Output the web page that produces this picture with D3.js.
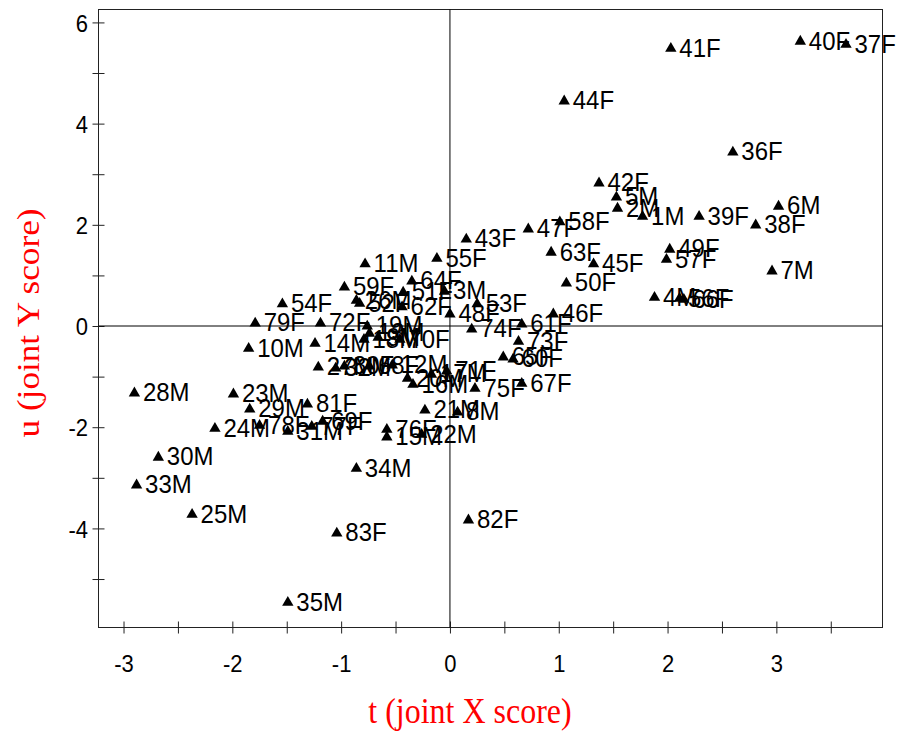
<!DOCTYPE html>
<html>
<head>
<meta charset="utf-8">
<script src="https://cdn.jsdelivr.net/npm/d3@7"></script>
<style>
  body { margin: 0; background: #fff; }
  text { font-family: "Liberation Sans", Arial, sans-serif; }
</style>
</head>
<body>
<script>
// sample ids (1-35 male, 36-83 female)
var labels = ["1M","2M","3M","4M","5M","6M","7M","8M","9M","10M",
  "11M","12M","13M","14M","15M","16M","17M","18M","19M","20M",
  "21M","22M","23M","24M","25M","26M","27M","28M","29M","30M",
  "31M","32M","33M","34M","35M",
  "36F","37F","38F","39F","40F","41F","42F","43F","44F","45F",
  "46F","47F","48F","49F","50F","51F","52F","53F","54F","55F",
  "56F","57F","58F","59F","60F","61F","62F","63F","64F","65F",
  "66F","67F","68F","69F","70F","71F","72F","73F","74F","75F",
  "76F","77F","78F","79F","80F","81F","82F","83F"]

// t (joint X score)
var tScore = [1.77,1.54,-0.05,1.88,1.53,3.02,2.96,0.07,-0.66,-1.85,
  -0.78,-0.53,-0.74,-1.24,-0.58,-0.34,-0.17,-0.79,-0.76,-0.39,
  -0.23,-0.26,-1.99,-2.16,-2.37,-0.86,-1.21,-2.90,-1.84,-2.68,
  -1.49,-1.05,-2.88,-0.86,-1.49,
  2.60,3.64,2.81,2.29,3.22,2.03,1.37,0.15,1.05,1.32,
  0.95,0.72,0.00,2.02,1.07,-0.43,-0.83,0.25,-1.54,-0.12,
  2.11,1.99,1.01,-0.97,0.58,0.66,-0.44,0.93,-0.35,0.49,
  2.15,0.66,-0.74,-1.17,-0.46,-0.03,-1.19,0.63,0.20,0.23,
  -0.58,-1.27,-1.75,-1.79,-0.97,-1.31,0.17,-1.04]

// u (joint Y score)
var uScore = [2.19,2.35,0.71,0.59,2.57,2.39,1.11,-1.68,-0.20,-0.42,
  1.25,-0.75,-0.12,-0.32,-2.17,-1.13,-0.93,-0.24,0.02,-1.01,
  -1.64,-2.12,-1.32,-2.00,-3.70,0.53,-0.79,-1.30,-1.62,-2.57,
  -2.06,-0.81,-3.12,-2.79,-5.44,
  3.46,5.59,2.02,2.19,5.65,5.51,2.85,1.74,4.47,1.25,
  0.26,1.94,0.26,1.54,0.87,0.69,0.47,0.46,0.46,1.36,
  0.57,1.34,2.08,0.79,-0.63,0.06,0.40,1.48,0.91,-0.59,
  0.55,-1.11,-0.77,-1.86,-0.24,-0.87,0.08,-0.28,-0.04,-1.21,
  -2.02,-1.96,-1.94,0.08,-0.77,-1.52,-3.81,-4.07]

var xMajor = [-3, -2, -1, 0, 1, 2, 3]
var xMinor = [-2.5, -1.5, -0.5, 0.5, 1.5, 2.5, 3.5]
var yMajor = [-4, -2, 0, 2, 4, 6]
var yMinor = [-5, -3, -1, 1, 3, 5]

var W = 899, H = 731
var stretch = 1.1   // text in the picture is a little taller than wide

var svg = d3.select("body").append("svg")
  .attr("width", W)
  .attr("height", H)

var x = d3.scaleLinear().domain([-3.23, 3.98]).range([98.5, 883])
var y = d3.scaleLinear().domain([-5.968, 6.265]).range([628, 9])

// ---------------------------//
//       AXES                 //
// ---------------------------//

var xAxis = svg.append("g")
  .attr("transform", "translate(0,627.5)")
  .call(d3.axisBottom(x).tickValues(xMajor).tickSize(6).tickFormat(d3.format("d")))
var xAxisMinor = svg.append("g")
  .attr("transform", "translate(0,627.5)")
  .call(d3.axisBottom(x).tickValues(xMinor).tickSize(6).tickFormat(""))

var yAxis = svg.append("g")
  .attr("transform", "translate(98.5,0)")
  .call(d3.axisLeft(y).tickValues(yMajor).tickSize(6).tickFormat(d3.format("d")))
var yAxisMinor = svg.append("g")
  .attr("transform", "translate(98.5,0)")
  .call(d3.axisLeft(y).tickValues(yMinor).tickSize(6).tickFormat(""))

// ticks cross the frame line
svg.selectAll(".domain").remove()
xAxis.selectAll("line").attr("y1", -6).attr("y2", 6)
xAxisMinor.selectAll("line").attr("y1", -6).attr("y2", 6)
yAxis.selectAll("line").attr("x1", -6).attr("x2", 6)
yAxisMinor.selectAll("line").attr("x1", -6).attr("x2", 6)
svg.selectAll(".tick line").attr("stroke", "#222")

xAxis.selectAll("text")
  .attr("y", 0).attr("dy", null)
  .attr("transform", "translate(0,44) scale(1," + stretch + ")")
  .style("font-size", "22px")
  .attr("fill", "#000")
  .text(function(d){ return d < 0 ? "-" + Math.abs(d) : d })

yAxis.selectAll("text")
  .attr("x", 0).attr("dy", null)
  .attr("transform", "translate(-10.5,8.7) scale(1," + stretch + ")")
  .style("font-size", "22px")
  .attr("fill", "#000")
  .text(function(d){ return d < 0 ? "-" + Math.abs(d) : d })

// frame
svg.append("rect")
  .attr("x", 98.5).attr("y", 9.5)
  .attr("width", 784).attr("height", 618)
  .attr("fill", "none")
  .attr("stroke", "#222")
  .attr("stroke-width", 1)

// zero lines
svg.append("line")
  .attr("x1", x(0)).attr("x2", x(0))
  .attr("y1", 9.5).attr("y2", 627.5)
  .attr("stroke", "#000")
svg.append("line")
  .attr("x1", 98.5).attr("x2", 882.5)
  .attr("y1", y(0)).attr("y2", y(0))
  .attr("stroke", "#000")

// ---------------------------//
//       POINTS + LABELS      //
// ---------------------------//

var pts = labels.map(function(d, i){ return {id: d, t: tScore[i], u: uScore[i]} })

var tri = d3.symbol().type(d3.symbolTriangle).size(56)

svg.append("g")
  .selectAll("path")
  .data(pts)
  .enter()
  .append("path")
    .attr("d", tri)
    .attr("transform", function(d){ return "translate(" + x(d.t) + "," + (y(d.u) + 1.3) + ")" })
    .attr("fill", "#000")

svg.append("g")
  .selectAll("text")
  .data(pts)
  .enter()
  .append("text")
    .attr("transform", function(d){
      return "translate(" + (x(d.t) + 8.5) + "," + (y(d.u) + 9.4) + ") scale(1," + stretch + ")" })
    .style("font-size", "24px")
    .attr("fill", "#000")
    .text(function(d){ return d.id })

// ---------------------------//
//       TITLES               //
// ---------------------------//

svg.append("text")
  .attr("transform", "translate(470,723) scale(1," + stretch + ")")
  .attr("text-anchor", "middle")
  .style("font-family", "'Liberation Serif', 'Times New Roman', serif")
  .style("font-size", "32px")
  .attr("fill", "#ff0000")
  .text("t (joint X score)")

svg.append("text")
  .attr("transform", "translate(39,323) scale(1," + stretch + ") rotate(-90)")
  .attr("text-anchor", "middle")
  .style("font-family", "'Liberation Serif', 'Times New Roman', serif")
  .style("font-size", "32px")
  .attr("fill", "#ff0000")
  .text("u (joint Y score)")
</script>
</body>
</html>
